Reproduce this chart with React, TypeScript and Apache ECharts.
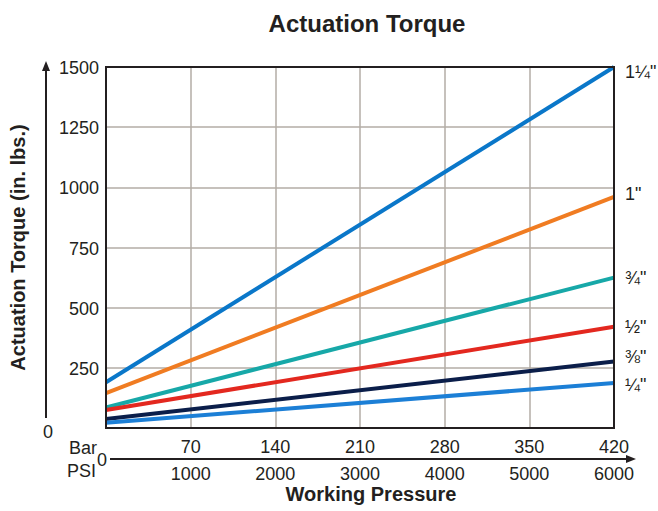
import React, { useEffect, useRef } from "react";
import * as echarts from "echarts";

const pressureBar = [0, 420];
const barTicks = [70, 140, 210, 280, 350, 420];
const psiLabels = ["1000", "2000", "3000", "4000", "5000", "6000"];
const sizes = ["1¼\"", "1\"", "¾\"", "½\"", "⅜\"", "¼\""];
const torque114 = [190, 1500];
const torque1 = [145, 960];
const torque34 = [85, 625];
const torque12 = [75, 421];
const torque38 = [37, 276];
const torque14 = [22, 187];
const seriesValues = [torque114, torque1, torque34, torque12, torque38, torque14];
const colors = ["#0a77c9", "#f07c22", "#17a8a8", "#e3281f", "#0b1e4a", "#1c7fd6"];
const labelOffsetY = [5, -3, 0, 0, -5, 2];

const FONT = "'Liberation Sans', Arial, Helvetica, sans-serif";
const TXT = "#231f20";
const FS = 18;

export default function App() {
  const ref = useRef<HTMLDivElement>(null);
  useEffect(() => {
    if (!ref.current) return;
    const chart = echarts.init(ref.current, null, { renderer: "svg" });
    const series = seriesValues.map((vals, i) => ({
      type: "line",
      name: sizes[i],
      data: pressureBar.map((p, j) => [p, vals[j]]),
      xAxisIndex: 0,
      showSymbol: false,
      symbol: "none",
      lineStyle: { color: colors[i], width: 4 },
      itemStyle: { color: colors[i] },
      endLabel: {
        show: true,
        formatter: sizes[i],
        color: TXT,
        fontSize: FS,
        fontFamily: FONT,
        distance: 11,
        offset: [0, labelOffsetY[i]],
      },
      z: 3,
    }));
    chart.setOption({
      animation: false,
      backgroundColor: "#ffffff",
      textStyle: { fontFamily: FONT },
      title: {
        text: "Actuation Torque",
        left: 362,
        textAlign: "center",
        top: 6,
        textStyle: { fontSize: 24, fontWeight: "bold", color: TXT, fontFamily: FONT },
      },
      grid: {
        left: 103,
        top: 67,
        width: 511,
        height: 361,
        show: true,
        borderColor: "#231f20",
        borderWidth: 2,
        z: 4,
      },
      xAxis: [
        {
          type: "value",
          min: 0,
          max: 420,
          interval: 70,
          position: "bottom",
          offset: 31,
          axisLine: { show: false },
          axisTick: { show: false },
          splitLine: { show: true, lineStyle: { color: "#b3aca6", width: 1.5 } },
          axisLabel: {
            showMinLabel: false,
            margin: 6,
            fontSize: FS,
            color: TXT,
            fontFamily: FONT,
            formatter: (v: number) => {
              const i = barTicks.indexOf(v);
              return i >= 0 ? psiLabels[i] : "";
            },
          },
        },
        {
          type: "value",
          min: 0,
          max: 420,
          interval: 70,
          position: "bottom",
          offset: 31,
          axisLine: { show: false },
          axisTick: { show: false },
          splitLine: { show: false },
          axisLabel: {
            inside: true,
            showMinLabel: false,
            margin: 3,
            fontSize: FS,
            color: TXT,
            fontFamily: FONT,
            formatter: (v: number) => String(v),
          },
        },
      ],
      yAxis: {
        type: "value",
        min: 0,
        max: 1500,
        interval: 250,
        name: "Actuation Torque (in. lbs.)",
        nameLocation: "middle",
        nameGap: 78,
        nameTextStyle: { fontSize: 20, fontWeight: "bold", color: TXT, fontFamily: FONT },
        axisLine: { show: false },
        axisTick: { show: false },
        splitLine: { show: true, lineStyle: { color: "#b3aca6", width: 1.5 } },
        axisLabel: {
          showMinLabel: false,
          margin: 7,
          fontSize: FS,
          color: TXT,
          fontFamily: FONT,
          formatter: (v: number) => String(v),
          verticalAlign: "top",
          padding: [-8, 0, 0, 0],
        },
      },
      graphic: [
        { type: "line", shape: { x1: 46, y1: 68, x2: 46, y2: 418 }, style: { stroke: "#231f20", lineWidth: 2 } },
        { type: "polygon", shape: { points: [[46, 61], [42, 71], [50, 71]] }, style: { fill: "#231f20" } },
        { type: "line", shape: { x1: 110, y1: 459, x2: 628, y2: 459 }, style: { stroke: "#231f20", lineWidth: 2 } },
        { type: "polygon", shape: { points: [[636, 459], [626, 455], [626, 463]] }, style: { fill: "#231f20" } },
        { type: "text", x: 48, y: 432, style: { text: "0", fill: TXT, font: `${FS}px ${FONT}`, align: "center", verticalAlign: "middle" } },
        { type: "text", x: 102, y: 460, style: { text: "0", fill: TXT, font: `${FS}px ${FONT}`, align: "center", verticalAlign: "middle" } },
        { type: "text", x: 97, y: 448, style: { text: "Bar", fill: TXT, font: `${FS}px ${FONT}`, align: "right", verticalAlign: "middle" } },
        { type: "text", x: 96, y: 471, style: { text: "PSI", fill: TXT, font: `${FS}px ${FONT}`, align: "right", verticalAlign: "middle" } },
        { type: "text", x: 371, y: 494, style: { text: "Working Pressure", fill: TXT, font: `bold 20px ${FONT}`, align: "center", verticalAlign: "middle" } },
      ],
      series,
    });
    return () => chart.dispose();
  }, []);
  return <div ref={ref} style={{ position: "fixed", left: 0, top: 0, width: 658, height: 511 }} />;
}
